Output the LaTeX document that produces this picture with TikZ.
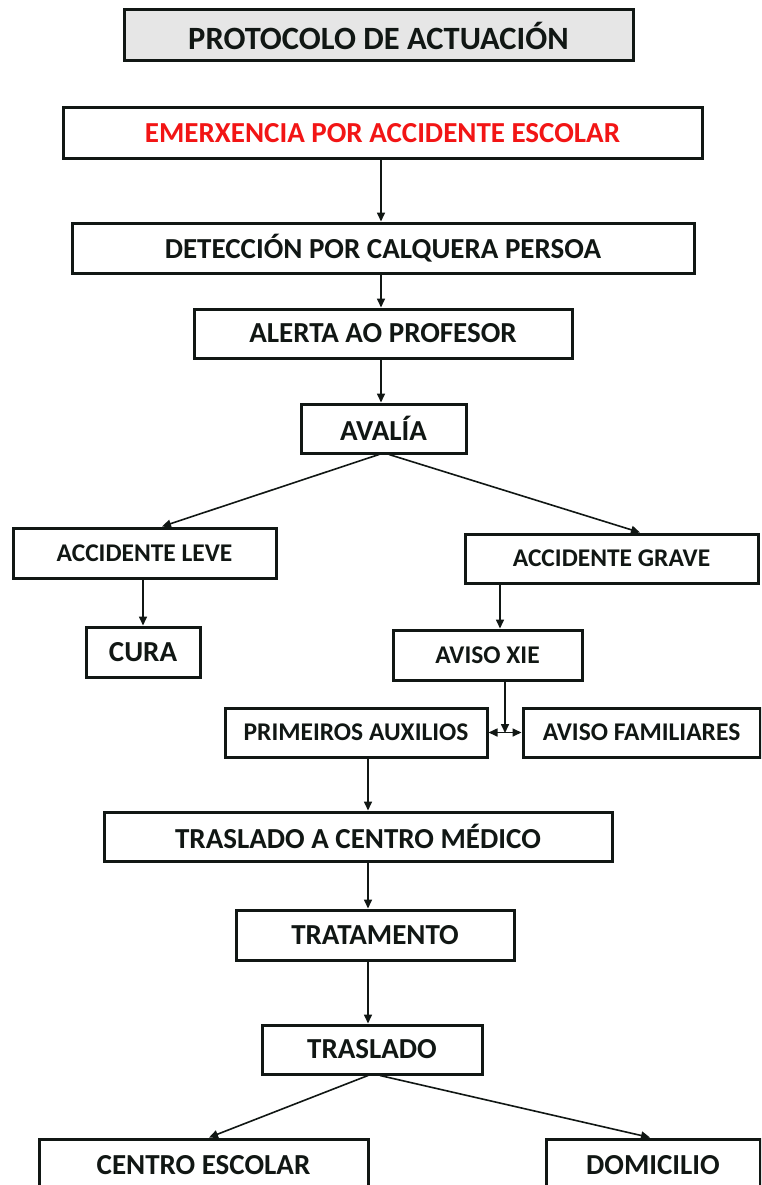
\documentclass[tikz,border=0pt]{standalone}
\usepackage{fontspec}
\setmainfont{Carlito}
\usetikzlibrary{arrows.meta}
\definecolor{ink}{HTML}{111714}
\definecolor{redtxt}{HTML}{F21515}
\definecolor{titlegray}{HTML}{E6E6E6}
\newcommand{\bigf}{\fontsize{29}{32}\selectfont\bfseries}
\newcommand{\smallf}{\fontsize{25.5}{28}\selectfont\bfseries}
\newcommand{\titlef}{\fontsize{32.5}{36}\selectfont\bfseries}
\tikzset{
  boxnode/.style={draw=ink, line width=3pt, inner sep=0pt, text=ink, fill=white},
  conn/.style={draw=ink, line width=1.6pt, -{Triangle[length=9pt,width=8pt]}},
  conn2/.style={draw=ink, line width=1.6pt, {Triangle[length=9pt,width=8pt]}-{Triangle[length=9pt,width=8pt]}},
}
% box by corners: x1,y1,x2,y2
\newcommand{\mybox}[7][]{%
  \node[boxnode, #1, minimum width={(#5)-(#3)}, minimum height={(#6)-(#4)}] (#2) at ({((#3)+(#5))/2},{((#4)+(#6))/2}) {#7};}
\begin{document}
\begin{tikzpicture}[x=1pt, y=-1pt]
\clip (0,0) rectangle (761,1185);
\fill[white] (0,0) rectangle (761,1185);

\mybox[fill=titlegray, font=\titlef]{title}{124}{10}{633}{61}{PROTOCOLO DE ACTUACIÓN}
\mybox[font=\bigf, text=redtxt]{emer}{63}{108}{702}{159}{EMERXENCIA POR ACCIDENTE ESCOLAR}
\mybox[font=\bigf]{det}{72}{223}{694}{273}{DETECCIÓN POR CALQUERA PERSOA}
\mybox[font=\bigf]{alert}{194}{309}{572}{358}{ALERTA AO PROFESOR}
\mybox[font=\bigf]{aval}{301}{404}{466}{453}{AVALÍA}
\mybox[font=\smallf]{leve}{13}{528}{276}{578}{ACCIDENTE LEVE}
\mybox[font=\smallf]{grave}{465}{534}{758}{583}{ACCIDENTE GRAVE}
\mybox[font=\bigf]{cura}{86}{627}{200}{677}{CURA}
\mybox[font=\smallf]{xie}{393}{630}{582}{680}{AVISO XIE}
\mybox[font=\smallf]{prim}{225}{708}{487}{757}{PRIMEIROS AUXILIOS}
\mybox[font=\smallf]{fam}{523}{708}{760}{757}{AVISO FAMILIARES}
\mybox[font=\bigf]{tcm}{104}{812}{612}{861}{TRASLADO A CENTRO MÉDICO}
\mybox[font=\bigf]{trat}{236}{910}{514}{960}{TRATAMENTO}
\mybox[font=\bigf]{tras}{262}{1025}{482}{1074}{TRASLADO}
\mybox[font=\bigf]{cesc}{39}{1139}{368}{1192}{CENTRO ESCOLAR}
\mybox[font=\bigf]{dom}{546}{1139}{760}{1192}{DOMICILIO}

\coordinate (j) at (505,733);

\draw[conn] (emer.south -| 381,0) -- (det.north -| 381,0);
\draw[conn] (det.south -| 381,0) -- (alert.north -| 381,0);
\draw[conn] (alert.south -| 381,0) -- (aval.north -| 381,0);
\draw[conn] (aval.south -| 379,0) -- (leve.north -| 162,0);
\draw[conn] (aval.south -| 389,0) -- (grave.north -| 640,0);
\draw[conn] (leve.south -| 143,0) -- (cura.north -| 143,0);
\draw[conn] (grave.south -| 500,0) -- (xie.north -| 500,0);
\draw[conn] (xie.south -| 505,0) -- (j);
\draw[conn2] (prim.east) -- (fam.west);
\draw[conn] (prim.south -| 368,0) -- (tcm.north -| 368,0);
\draw[conn] (tcm.south -| 368,0) -- (trat.north -| 368,0);
\draw[conn] (trat.south -| 368,0) -- (tras.north -| 368,0);
\draw[conn] (tras.south -| 368,0) -- (cesc.north -| 209,0);
\draw[conn] (tras.south -| 380,0) -- (dom.north -| 650,0);
\end{tikzpicture}
\end{document}
